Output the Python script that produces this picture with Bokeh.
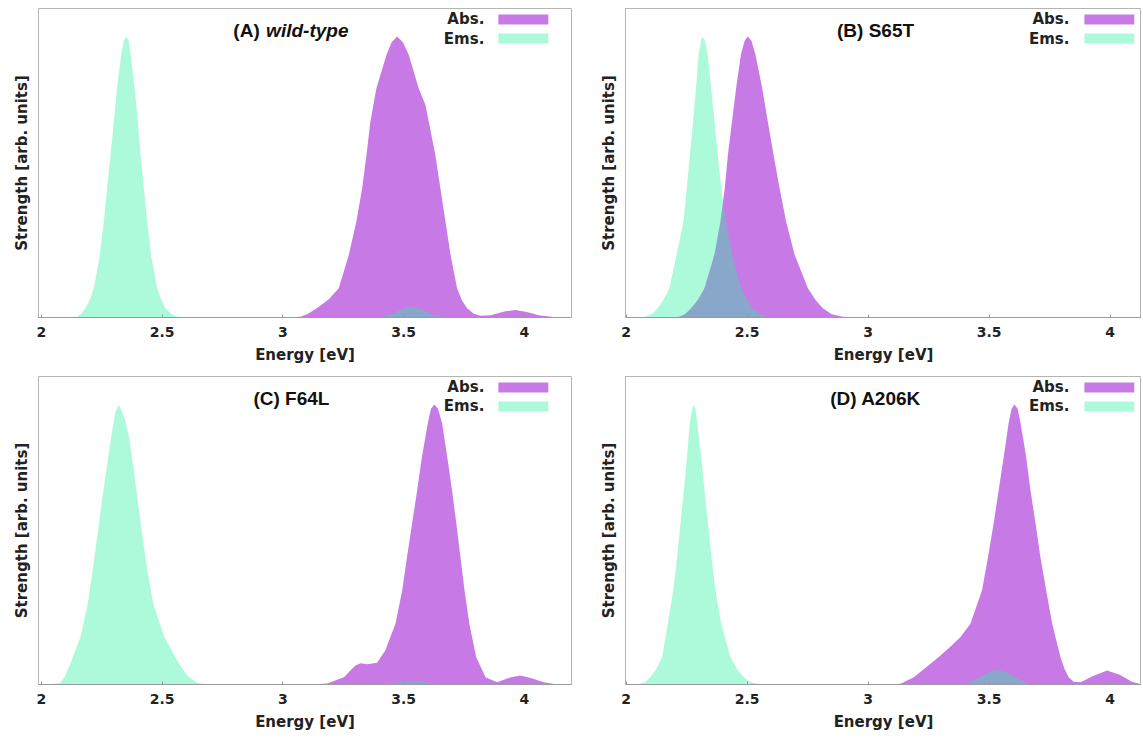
from bokeh.plotting import figure
from bokeh.layouts import column, row
from bokeh.models import Range1d, FixedTicker, Label, BoxAnnotation, ColumnDataSource
from bokeh.embed import file_html
from bokeh.resources import INLINE

# ---------------- data ----------------
tick_values = [2, 2.5, 3, 3.5, 4]
tick_labels = ["2", "2.5", "3", "3.5", "4"]
x_label = "Energy [eV]"
y_label = "Strength [arb. units]"
legend_labels = ["Abs.", "Ems."]

A_ems_x = [2.10, 2.148, 2.165, 2.182, 2.200, 2.217, 2.241, 2.258, 2.272, 2.286, 2.300, 2.313, 2.331,
           2.341, 2.351, 2.361, 2.369, 2.385, 2.399, 2.410, 2.424, 2.438, 2.454, 2.479, 2.496, 2.513,
           2.537, 2.562, 2.62,
           3.40, 3.45, 3.50, 3.53, 3.57, 3.62, 3.68]
A_ems_y = [0, 0.003, 0.013, 0.033, 0.063, 0.105, 0.22, 0.34, 0.46, 0.58, 0.70, 0.82, 0.94,
           0.985, 1.0, 0.985, 0.94, 0.82, 0.70, 0.58, 0.46, 0.34, 0.22, 0.105, 0.063, 0.033,
           0.013, 0.003, 0,
           0, 0.012, 0.032, 0.038, 0.030, 0.010, 0]
A_abs_x = [3.00, 3.072, 3.10, 3.14, 3.19, 3.231, 3.273, 3.304, 3.328, 3.346, 3.362, 3.387, 3.429,
           3.45, 3.473, 3.497, 3.521, 3.562, 3.590, 3.604, 3.631, 3.652, 3.673, 3.694, 3.721, 3.742,
           3.763, 3.79, 3.818, 3.86, 3.92, 3.963, 4.01, 4.06, 4.12, 4.19]
A_abs_y = [0, 0.003, 0.012, 0.033, 0.065, 0.104, 0.223, 0.342, 0.46, 0.579, 0.697, 0.816, 0.935,
           0.98, 1.0, 0.98, 0.935, 0.816, 0.757, 0.697, 0.579, 0.46, 0.342, 0.223, 0.104, 0.06,
           0.033, 0.013, 0.006, 0.008, 0.022, 0.027, 0.02, 0.008, 0.002, 0]

B_ems_x = [2.03, 2.083, 2.107, 2.131, 2.155, 2.179, 2.209, 2.237, 2.251, 2.264, 2.277, 2.289, 2.300,
           2.314, 2.326, 2.337, 2.351, 2.365, 2.379, 2.393, 2.413, 2.438, 2.475, 2.499, 2.523, 2.55,
           2.578, 2.63]
B_ems_y = [0, 0.003, 0.013, 0.033, 0.063, 0.105, 0.224, 0.343, 0.462, 0.581, 0.70, 0.819, 0.938,
           1.0, 0.985, 0.938, 0.819, 0.70, 0.581, 0.462, 0.343, 0.224, 0.105, 0.063, 0.033, 0.013,
           0.003, 0]
B_abs_x = [2.17, 2.22, 2.245, 2.269, 2.297, 2.324, 2.365, 2.390, 2.408, 2.421, 2.438, 2.455, 2.475,
           2.490, 2.503, 2.518, 2.534, 2.562, 2.585, 2.609, 2.634, 2.661, 2.696, 2.751, 2.782, 2.813,
           2.85, 2.895, 2.95]
B_abs_y = [0, 0.003, 0.013, 0.033, 0.063, 0.105, 0.224, 0.343, 0.462, 0.581, 0.70, 0.819, 0.938,
           0.985, 1.0, 0.985, 0.938, 0.819, 0.70, 0.581, 0.462, 0.343, 0.224, 0.105, 0.063, 0.033,
           0.012, 0.003, 0]

C_ems_x = [2.02, 2.077, 2.098, 2.12, 2.162, 2.192, 2.212, 2.231, 2.249, 2.269, 2.289, 2.305, 2.320,
           2.335, 2.346, 2.362, 2.382, 2.400, 2.418, 2.438, 2.462, 2.508, 2.569, 2.605, 2.646, 2.70,
           3.40, 3.50, 3.57, 3.65]
C_ems_y = [0, 0.005, 0.03, 0.075, 0.171, 0.29, 0.409, 0.529, 0.648, 0.767, 0.887, 0.97, 1.0,
           0.97, 0.946, 0.887, 0.767, 0.648, 0.529, 0.409, 0.29, 0.171, 0.075, 0.03, 0.005, 0,
           0, 0.010, 0.012, 0]
C_abs_x = [3.12, 3.183, 3.252, 3.30, 3.321, 3.35, 3.39, 3.424, 3.445, 3.466, 3.494, 3.514, 3.535,
           3.556, 3.576, 3.600, 3.613, 3.627, 3.642, 3.659, 3.680, 3.700, 3.718, 3.735, 3.752, 3.772,
           3.800, 3.839, 3.887, 3.94, 3.983, 4.03, 4.08, 4.13, 4.19]
C_abs_y = [0, 0.004, 0.026, 0.068, 0.076, 0.072, 0.078, 0.122, 0.17, 0.217, 0.337, 0.456, 0.576,
           0.695, 0.815, 0.934, 0.985, 1.0, 0.985, 0.934, 0.815, 0.695, 0.576, 0.456, 0.337, 0.217,
           0.098, 0.026, 0.008, 0.025, 0.032, 0.022, 0.008, 0.001, 0]

D_ems_x = [2.00, 2.06, 2.08, 2.10, 2.125, 2.149, 2.172, 2.195, 2.211, 2.225, 2.239, 2.252, 2.263,
           2.277, 2.286, 2.294, 2.310, 2.324, 2.338, 2.353, 2.369, 2.393, 2.431, 2.458, 2.486, 2.512,
           2.542, 2.60,
           3.40, 3.45, 3.50, 3.53, 3.57, 3.62, 3.67]
D_ems_y = [0, 0.003, 0.011, 0.026, 0.055, 0.098, 0.217, 0.337, 0.456, 0.576, 0.695, 0.815, 0.934,
           1.0, 0.985, 0.934, 0.815, 0.695, 0.576, 0.456, 0.337, 0.217, 0.098, 0.055, 0.026, 0.01,
           0.003, 0,
           0, 0.02, 0.045, 0.053, 0.045, 0.02, 0]
D_abs_x = [3.08, 3.134, 3.189, 3.24, 3.292, 3.34, 3.382, 3.423, 3.471, 3.496, 3.519, 3.540, 3.561,
           3.581, 3.593, 3.605, 3.618, 3.630, 3.653, 3.671, 3.692, 3.712, 3.736, 3.761, 3.795, 3.812,
           3.829, 3.85, 3.878, 3.93, 3.988, 4.04, 4.09, 4.126, 4.19]
D_abs_y = [0, 0.003, 0.026, 0.062, 0.098, 0.135, 0.17, 0.217, 0.337, 0.456, 0.576, 0.695, 0.815,
           0.934, 0.985, 1.0, 0.985, 0.934, 0.815, 0.695, 0.576, 0.456, 0.337, 0.217, 0.098, 0.055,
           0.026, 0.01, 0.008, 0.03, 0.05, 0.035, 0.01, 0.002, 0]

# ---------------- style ----------------
ABS_COLOR = "#C77AE6"
EMS_COLOR = "#25F29E"
EMS_ALPHA = 0.38
EMS_SWATCH = "#ACFADA"
LABEL_FONT = "DejaVu Sans"
TITLE_FONT = "Liberation Sans"


def make_panel(ems_x, ems_y, abs_x, abs_y, title_parts, width, height, x_start, x_end,
               border_left, border_right, border_top, border_bottom, title_x, legend_pos):
    p = figure(width=width, height=height, output_backend="svg", toolbar_location=None,
               x_range=Range1d(x_start, x_end), y_range=Range1d(0, 1.1),
               min_border_left=border_left, min_border_right=border_right,
               min_border_top=border_top, min_border_bottom=border_bottom)
    p.xgrid.visible = False
    p.ygrid.visible = False
    p.outline_line_color = "#b4b4b4"
    p.outline_line_width = 1
    p.background_fill_color = "white"
    p.border_fill_color = "white"

    src_abs = ColumnDataSource(dict(x=abs_x, y=abs_y))
    src_ems = ColumnDataSource(dict(x=ems_x, y=ems_y))
    p.varea(x="x", y1=0, y2="y", source=src_abs, fill_color=ABS_COLOR, fill_alpha=1.0)
    p.varea(x="x", y1=0, y2="y", source=src_ems, fill_color=EMS_COLOR, fill_alpha=EMS_ALPHA)

    # x axis
    xa = p.xaxis[0]
    xa.ticker = FixedTicker(ticks=tick_values)
    xa.major_label_overrides = {v: l for v, l in zip(tick_values, tick_labels)}
    xa.minor_tick_line_color = None
    xa.major_tick_in = 3
    xa.major_tick_out = 0
    xa.major_tick_line_color = "#999999"
    xa.axis_line_color = "#9a9a9a"
    xa.major_label_text_font = LABEL_FONT
    xa.major_label_text_font_style = "bold"
    xa.major_label_text_font_size = "14px"
    xa.major_label_text_color = "#222222"
    xa.major_label_standoff = 9
    xa.axis_label = x_label
    xa.axis_label_text_font = LABEL_FONT
    xa.axis_label_text_font_style = "bold"
    xa.axis_label_text_font_size = "15px"
    xa.axis_label_text_color = "#222222"
    xa.axis_label_standoff = 6

    # y axis
    ya = p.yaxis[0]
    ya.ticker = FixedTicker(ticks=[])
    ya.minor_tick_line_color = None
    ya.major_tick_line_color = None
    ya.major_label_text_font_size = "0px"
    ya.major_label_standoff = 0
    ya.axis_line_color = None
    ya.axis_label = y_label
    ya.axis_label_text_font = LABEL_FONT
    ya.axis_label_text_font_style = "bold"
    ya.axis_label_text_font_size = "15px"
    ya.axis_label_text_color = "#222222"
    ya.axis_label_standoff = 8

    # title (centred label inside plot)
    ty = 1.02
    if len(title_parts) == 2:
        p.add_layout(Label(x=title_x, y=ty, text=title_parts[0], x_offset=-31.7, text_align="right",
                           text_baseline="middle", text_font=TITLE_FONT, text_font_style="bold",
                           text_font_size="19px", text_color="#111111"))
        p.add_layout(Label(x=title_x, y=ty, text=title_parts[1], x_offset=-25.3, text_align="left",
                           text_baseline="middle", text_font=TITLE_FONT,
                           text_font_style="bold italic",
                           text_font_size="19px", text_color="#111111"))
    else:
        p.add_layout(Label(x=title_x, y=ty, text=title_parts[0], text_align="center",
                           text_baseline="middle", text_font=TITLE_FONT, text_font_style="bold",
                           text_font_size="19px", text_color="#111111"))

    # legend (text left, swatch right)
    text_x, sw_l, sw_r = legend_pos
    rows = [(1.061, 1.043, 1.079, ABS_COLOR), (0.993, 0.975, 1.011, EMS_SWATCH)]
    for lab, (yc, yb, yt, col) in zip(legend_labels, rows):
        p.add_layout(Label(x=text_x, y=yc, text=lab, text_align="right", text_baseline="middle",
                           text_font=LABEL_FONT, text_font_style="bold", text_font_size="15px",
                           text_color="#222222"))
        p.add_layout(BoxAnnotation(left=sw_l, right=sw_r, bottom=yb, top=yt,
                                   fill_color=col, fill_alpha=1.0, line_color=None))
    return p


pA = make_panel(A_ems_x, A_ems_y, A_abs_x, A_abs_y, ["(A)", "wild-type"], 580, 370, 1.9876, 4.195,
                38, 9, 8, 53, 3.035, (3.834, 3.892, 4.099))
pB = make_panel(B_ems_x, B_ems_y, B_abs_x, B_abs_y, ["(B) S65T"], 561, 370, 1.9975, 4.13,
                45, 0, 8, 53, 3.031, (3.832, 3.894, 4.10))
pC = make_panel(C_ems_x, C_ems_y, C_abs_x, C_abs_y, ["(C) F64L"], 580, 366, 1.9876, 4.195,
                38, 9, 6, 52, 3.035, (3.834, 3.892, 4.099))
pD = make_panel(D_ems_x, D_ems_y, D_abs_x, D_abs_y, ["(D) A206K"], 561, 366, 1.9975, 4.13,
                45, 0, 6, 52, 3.031, (3.832, 3.894, 4.10))

layout = column(row(pA, pB), row(pC, pD))
open("out.html", "w").write(file_html(layout, INLINE))
